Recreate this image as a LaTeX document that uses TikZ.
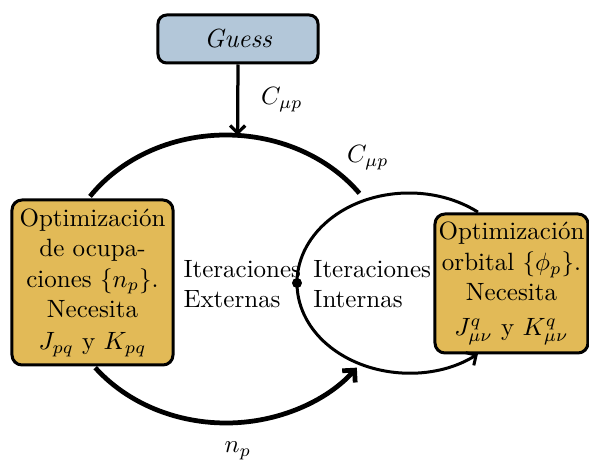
\documentclass[tikz,border=0pt]{standalone}
\usetikzlibrary{arrows.meta,calc}
\definecolor{guessblue}{HTML}{B3C7D9}
\definecolor{boxgold}{HTML}{E2BA57}
\begin{document}
\begin{tikzpicture}[x=0.4pt,y=0.4pt,
  boxstyle/.style={draw=black,line width=1.2pt,rounded corners=4pt,inner sep=0pt,align=center,
    font=\fontsize{10}{12.2}\selectfont},
  lbl/.style={inner sep=0pt,font=\fontsize{10}{12}\selectfont},
  outerarc/.style={line width=1.9pt},
  innerarc/.style={line width=1.2pt},
  tip/.style={-{Straight Barb[length=3.5pt,width=7pt]}}]
\useasboundingbox (0,0) rectangle (589,461);
% nodes
\node[boxstyle,fill=guessblue,rounded corners=3.5pt,minimum width=64pt,minimum height=19.2pt,
  font=\fontsize{10.5}{12}\selectfont] (guess) at (238,422) {\itshape Guess};
\node[boxstyle,fill=boxgold,minimum width=64.4pt,minimum height=66pt] (left) at (92.5,178.5)
  {Optimización\\de ocupa-\\ciones $\{n_p\}$.\\Necesita\\[0.5pt]$J_{pq}$ y $K_{pq}$};
\node[boxstyle,fill=boxgold,minimum width=61.2pt,minimum height=55.6pt] (right) at (511.5,177.5)
  {Optimización\\orbital $\{\phi_p\}$.\\Necesita\\[1.5pt]$J^q_{\mu\nu}$ y $K^q_{\mu\nu}$};
\node[lbl,align=left,anchor=west] (ext) at (183,177) {Iteraciones\\Externas};
\node[lbl,align=left,anchor=west] (int) at (313,177) {Iteraciones\\Internas};
\node[lbl] (c1) at (282,361) {$C_{\mu p}$};
\node[lbl] (c2) at (368,303) {$C_{\mu p}$};
\node[lbl] (np) at (238,10) {$n_p$};
% ellipse centres and contact points
\coordinate (oc) at (226,182);
\coordinate (ic) at (409,178);
\coordinate (otop) at ($(oc)+(86:166 and 144)$);
\coordinate (o1) at ($(oc)+(145:166 and 144)$);
\coordinate (o3) at ($(oc)+(218:166 and 144)$);
\coordinate (i1) at ($(ic)+(52:112 and 90)$);
\coordinate (idot) at ($(ic)+(180:112 and 90)$);
% connectors
\draw[line width=1.3pt,-{Straight Barb[length=3pt,width=6pt]}] (guess.south) -- (otop);
\draw[outerarc] (o1) arc[start angle=145,end angle=36.5,x radius=66.4pt,y radius=57.6pt];
\draw[outerarc,tip] (o3) arc[start angle=218,end angle=322,x radius=66.4pt,y radius=57.6pt];
\draw[innerarc,-{Straight Barb[length=3pt,width=6pt]}] (i1) arc[start angle=52,end angle=308,x radius=44.8pt,y radius=36pt];
\fill (idot) circle[radius=2pt];
\end{tikzpicture}
\end{document}
